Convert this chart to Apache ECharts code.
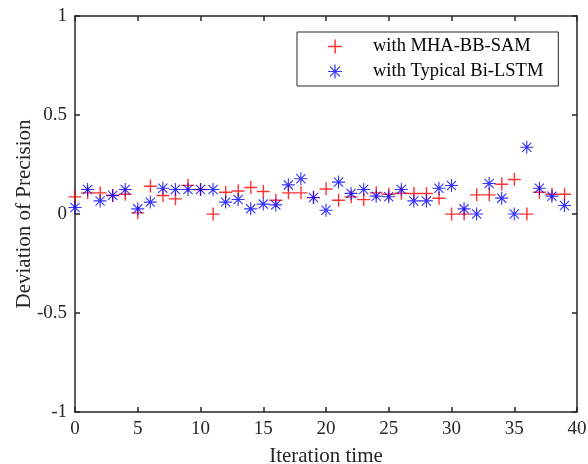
<!DOCTYPE html>
<html>
<head>
<meta charset="utf-8">
<script src="https://cdn.jsdelivr.net/npm/echarts@6/dist/echarts.min.js"></script>
<style>html,body{margin:0;padding:0;background:#fff;}#c{width:588px;height:464px;}</style>
</head>
<body>
<div id="c"></div>
<script>
var iterations = [];
for (var k = 0; k < 40; k++) iterations.push(k);
var mhaValues = [0.087,0.107,0.107,0.094,0.10,0.006,0.141,0.094,0.077,0.145,0.124,0.0,0.11,0.117,0.134,0.114,0.07,0.107,0.107,0.083,0.127,0.07,0.087,0.073,0.107,0.10,0.105,0.104,0.104,0.08,0.0,0.0,0.097,0.097,0.151,0.175,0.0,0.11,0.10,0.10];
var lstmValues = [0.033,0.124,0.066,0.094,0.124,0.026,0.06,0.13,0.124,0.124,0.124,0.124,0.06,0.073,0.026,0.05,0.046,0.147,0.178,0.083,0.019,0.161,0.104,0.124,0.09,0.087,0.124,0.066,0.066,0.13,0.144,0.026,0.0,0.154,0.08,0.0,0.337,0.13,0.09,0.043];
var seriesNames = ['with MHA-BB-SAM', 'with Typical Bi-LSTM'];
var yTickLabels = {'1':'1','0.5':'0.5','0':'0','-0.5':'-0.5','-1':'-1'};

var plusPath = 'path://M5.9,0h1.4v13h-1.4z M0,5.9h13v1.4h-13z';
var starPath = 'path://M6.4,0h1.2v14h-1.2z M0,6.4h14v1.2h-14z M1.63,2.47L2.47,1.63L12.37,11.53L11.53,12.37z M11.53,1.63L12.37,2.47L2.47,12.37L1.63,11.53z';

function pairs(vals){ return iterations.map(function(x,i){ return [x, vals[i]]; }); }

var font = 'Liberation Serif, Times New Roman, serif';
var axisColor = '#262626';
var chart = echarts.init(document.getElementById('c'), null, {renderer:'canvas'});
var commonX = {
  type:'value', min:0, max:40, interval:5,
  axisLine:{show:true, onZero:false, lineStyle:{color:axisColor, width:1.5}},
  axisTick:{show:true, inside:true, length:5, lineStyle:{color:axisColor, width:1.5}},
  splitLine:{show:false}
};
var commonY = {
  type:'value', min:-1, max:1, interval:0.5,
  axisLine:{show:true, onZero:false, lineStyle:{color:axisColor, width:1.5}},
  axisTick:{show:true, inside:true, length:5, lineStyle:{color:axisColor, width:1.5}},
  splitLine:{show:false}
};
chart.setOption({
  animation:false,
  backgroundColor:'#fff',
  grid:{left:75, right:11, top:16, bottom:52, containLabel:false, outerBoundsMode:'none'},
  xAxis:[
    Object.assign({}, commonX, {position:'bottom', name:'Iteration time', nameLocation:'middle', nameGap:34,
      nameMoveOverlap:false,
      nameTextStyle:{fontFamily:font, fontSize:21, color:axisColor},
      axisLabel:{show:true, fontFamily:font, fontSize:19, color:axisColor, margin:8}}),
    Object.assign({}, commonX, {position:'top', axisLabel:{show:false}})
  ],
  yAxis:[
    Object.assign({}, commonY, {position:'left', name:'Deviation of Precision', nameLocation:'middle', nameGap:40,
      nameMoveOverlap:false,
      nameTextStyle:{fontFamily:font, fontSize:21, color:axisColor},
      axisLabel:{show:true, fontFamily:font, fontSize:19, color:axisColor, margin:8,
        formatter:function(v){ var s=String(v); return yTickLabels[s]!==undefined?yTickLabels[s]:s; }}}),
    Object.assign({}, commonY, {position:'right', axisLabel:{show:false}})
  ],
  legend:{
    show:true, orient:'vertical', left:297, top:32,
    padding:[5,15,5,31], itemWidth:14, itemHeight:14, itemGap:6,
    borderColor:axisColor, borderWidth:1, backgroundColor:'#fff',
    textStyle:{fontFamily:font, fontSize:18.5, color:'#000', padding:[0,0,0,26], lineHeight:16},
    data:[{name:seriesNames[0], icon:plusPath},{name:seriesNames[1], icon:starPath}]
  },
  series:[
    {name:seriesNames[0], type:'scatter', data:pairs(mhaValues), symbol:plusPath, symbolSize:13,
      itemStyle:{color:'#ff0000'}, clip:false},
    {name:seriesNames[1], type:'scatter', data:pairs(lstmValues), symbol:starPath, symbolSize:13,
      itemStyle:{color:'#0000ff'}, clip:false}
  ]
});
</script>
</body>
</html>
